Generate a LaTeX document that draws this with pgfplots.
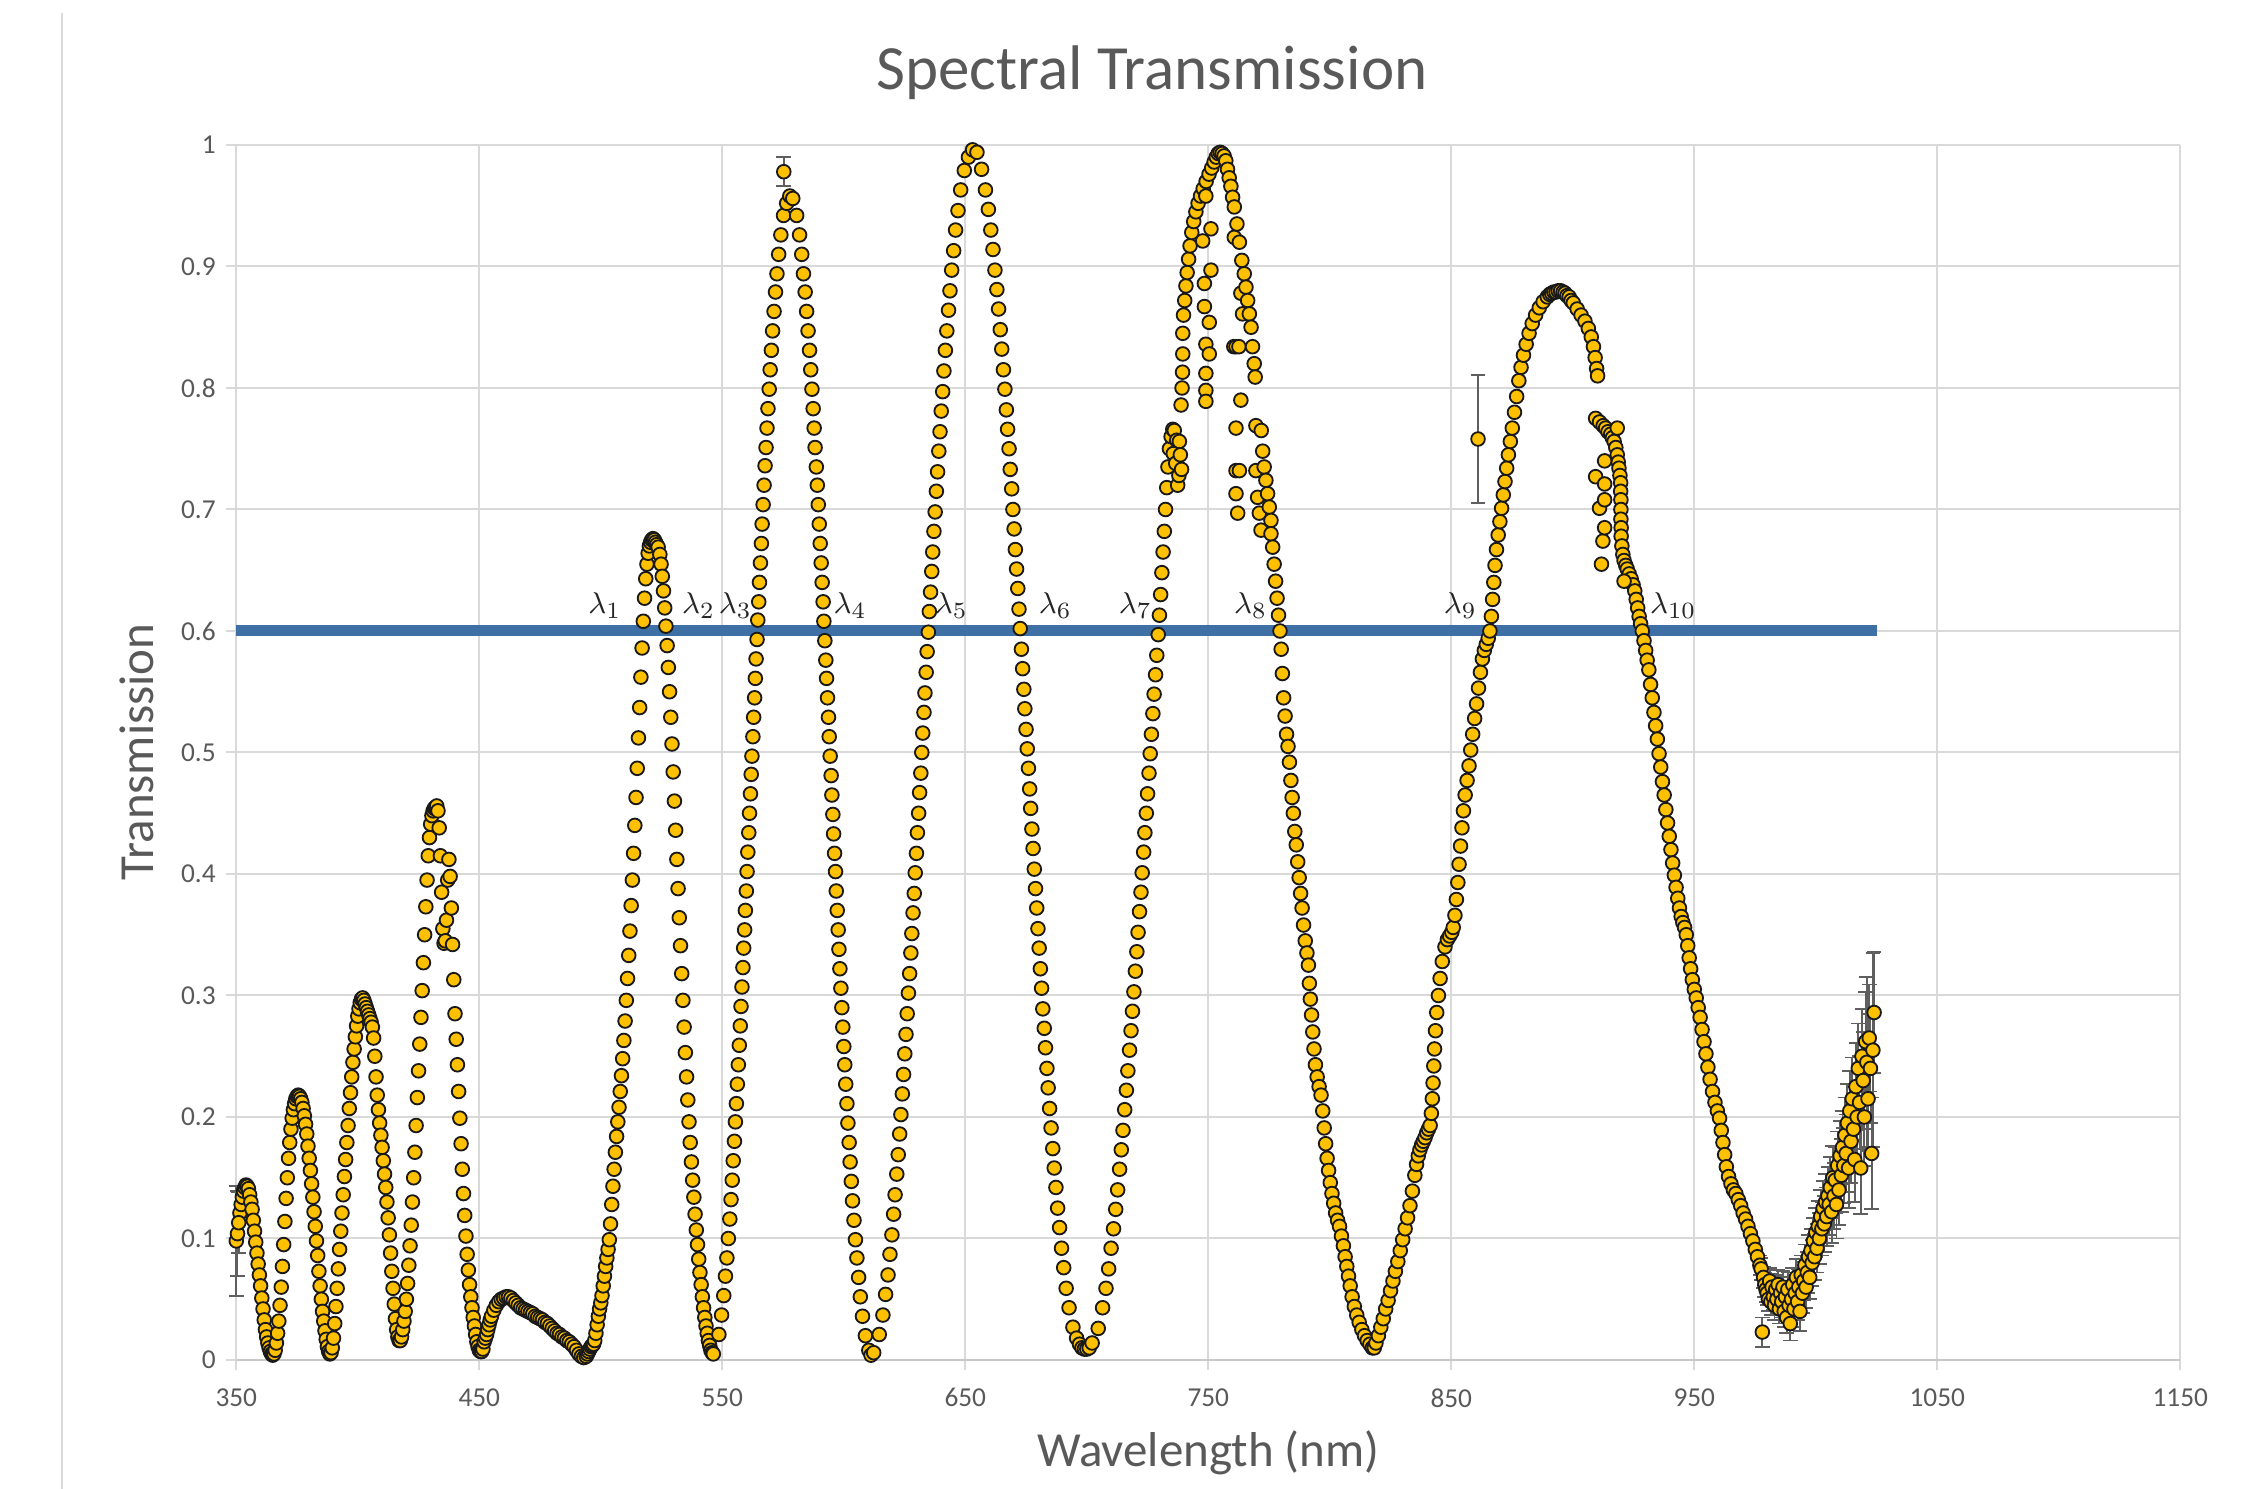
\documentclass[border=0pt]{standalone}
\usepackage{fontspec}
\setmainfont{Carlito}
\usepackage{pgfplots}
\pgfplotsset{compat=1.18}
\usepackage{pgfplotstable}

\definecolor{txtgray}{RGB}{89,89,89}
\definecolor{gridgray}{RGB}{217,217,217}
\definecolor{axgray}{RGB}{200,200,200}
\definecolor{mkfill}{RGB}{255,192,0}
\definecolor{lineblue}{RGB}{62,112,166}
\definecolor{errgray}{RGB}{95,95,95}

% main series
\pgfplotstableread{
x y
351.5 0.121
352.0 0.128
352.5 0.134
353.0 0.139
353.5 0.142
354.0 0.144
354.5 0.143
355.0 0.141
355.5 0.136
356.0 0.130
356.5 0.124
357.0 0.115
357.5 0.106
358.0 0.097
358.5 0.088
359.0 0.079
359.5 0.070
360.0 0.061
360.5 0.051
361.0 0.042
361.5 0.033
362.0 0.025
362.5 0.019
363.0 0.014
363.5 0.010
364.0 0.007
364.5 0.005
365.0 0.004
365.5 0.005
366.0 0.008
366.5 0.014
367.0 0.022
367.5 0.032
368.0 0.045
368.5 0.060
369.0 0.077
369.5 0.095
370.0 0.114
370.5 0.133
371.0 0.150
371.5 0.166
372.0 0.179
372.5 0.190
373.0 0.199
373.5 0.206
374.0 0.211
374.5 0.215
375.0 0.217
375.5 0.218
376.0 0.217
376.5 0.215
377.0 0.212
377.5 0.207
378.0 0.201
378.5 0.194
379.0 0.186
379.5 0.176
380.0 0.166
380.5 0.156
381.0 0.145
381.5 0.134
382.0 0.122
382.5 0.110
383.0 0.098
383.5 0.086
384.0 0.073
384.5 0.061
385.0 0.050
385.5 0.040
386.0 0.032
386.5 0.024
387.0 0.017
387.5 0.011
388.0 0.007
388.5 0.005
389.0 0.006
389.5 0.010
390.0 0.018
390.5 0.030
391.0 0.044
391.5 0.059
392.0 0.075
392.5 0.091
393.0 0.106
393.5 0.121
394.0 0.136
394.5 0.151
395.0 0.165
395.5 0.179
396.0 0.193
396.5 0.207
397.0 0.220
397.5 0.233
398.0 0.245
398.5 0.256
399.0 0.266
399.5 0.275
400.0 0.283
400.5 0.289
401.0 0.294
401.5 0.297
402.0 0.298
402.5 0.296
403.0 0.293
403.5 0.290
404.0 0.287
404.5 0.284
405.0 0.281
405.5 0.278
406.0 0.274
406.5 0.265
407.0 0.250
407.5 0.233
408.0 0.218
408.5 0.206
409.0 0.195
409.5 0.185
410.0 0.175
410.5 0.164
411.0 0.153
411.5 0.142
412.0 0.130
412.5 0.117
413.0 0.103
413.5 0.088
414.0 0.073
414.5 0.059
415.0 0.046
415.5 0.034
416.0 0.025
416.5 0.019
417.0 0.016
417.5 0.016
418.0 0.019
418.5 0.025
419.0 0.032
419.5 0.040
420.0 0.050
420.5 0.063
421.0 0.078
421.5 0.094
422.0 0.111
422.5 0.130
423.0 0.150
423.5 0.171
424.0 0.193
424.5 0.216
425.0 0.238
425.5 0.260
426.0 0.282
426.5 0.304
427.0 0.327
427.5 0.350
428.0 0.373
428.5 0.395
429.0 0.415
429.5 0.430
430.0 0.441
430.5 0.448
431.0 0.452
431.5 0.454
432.0 0.455
432.5 0.456
433.0 0.452
433.5 0.438
434.0 0.415
434.5 0.385
435.0 0.355
435.5 0.343
436.0 0.345
436.5 0.362
437.0 0.395
437.5 0.412
438.0 0.398
438.5 0.372
439.0 0.342
439.5 0.313
440.0 0.285
440.5 0.264
441.0 0.243
441.5 0.221
442.0 0.199
442.5 0.178
443.0 0.157
443.5 0.137
444.0 0.119
444.5 0.102
445.0 0.087
445.5 0.074
446.0 0.062
446.5 0.052
447.0 0.043
447.5 0.035
448.0 0.028
448.5 0.021
449.0 0.015
449.5 0.011
450.0 0.008
450.5 0.007
451.0 0.007
451.5 0.009
452.0 0.015
452.5 0.018
453.0 0.021
453.5 0.025
454.0 0.029
454.5 0.033
455.0 0.036
456.0 0.041
457.0 0.045
458.0 0.048
459.0 0.050
460.0 0.051
461.0 0.052
462.0 0.052
463.0 0.051
464.0 0.049
465.0 0.047
466.0 0.045
467.0 0.043
468.0 0.042
469.0 0.041
470.0 0.040
471.0 0.039
472.0 0.038
473.0 0.036
474.0 0.035
475.0 0.034
476.0 0.033
477.0 0.031
478.0 0.030
479.0 0.028
480.0 0.026
481.0 0.024
482.0 0.022
483.0 0.021
484.0 0.019
485.0 0.018
486.0 0.016
487.0 0.015
488.0 0.013
489.0 0.011
490.0 0.008
491.0 0.005
492.0 0.003
493.0 0.002
494.0 0.003
494.5 0.005
495.0 0.007
495.5 0.009
496.0 0.011
496.5 0.012
497.0 0.013
497.5 0.016
498.0 0.022
498.5 0.029
499.0 0.036
499.5 0.042
500.0 0.047
500.5 0.053
501.0 0.061
501.5 0.069
502.0 0.077
502.5 0.084
503.0 0.091
503.5 0.099
504.0 0.112
504.5 0.128
505.0 0.143
505.5 0.157
506.0 0.171
506.5 0.184
507.0 0.196
507.5 0.208
508.0 0.221
508.5 0.234
509.0 0.248
509.5 0.263
510.0 0.279
510.5 0.296
511.0 0.314
511.5 0.333
512.0 0.353
512.5 0.374
513.0 0.395
513.5 0.417
514.0 0.440
514.5 0.463
515.0 0.487
515.5 0.512
516.0 0.537
516.5 0.562
517.0 0.586
517.5 0.608
518.0 0.627
518.5 0.643
519.0 0.655
519.5 0.664
520.0 0.670
520.5 0.673
521.0 0.675
521.5 0.676
522.0 0.675
522.5 0.673
523.0 0.671
523.6 0.669
524.3 0.663
524.8 0.655
525.3 0.645
525.8 0.633
526.3 0.619
526.8 0.604
527.3 0.588
527.8 0.570
528.3 0.550
528.8 0.529
529.3 0.507
529.8 0.484
530.3 0.460
530.8 0.436
531.3 0.412
531.8 0.388
532.3 0.364
532.8 0.341
533.3 0.318
533.8 0.296
534.3 0.274
534.8 0.253
535.3 0.233
535.8 0.214
536.3 0.196
536.8 0.179
537.3 0.163
537.8 0.148
538.3 0.134
538.8 0.120
539.3 0.107
539.8 0.095
540.3 0.083
540.8 0.072
541.3 0.062
541.8 0.052
542.3 0.043
542.8 0.035
543.3 0.028
543.8 0.022
544.3 0.016
544.8 0.012
545.3 0.008
545.8 0.006
546.3 0.005
548.6 0.021
549.7 0.037
550.6 0.053
551.3 0.069
551.9 0.084
552.5 0.100
553.1 0.116
553.6 0.132
554.1 0.148
554.5 0.164
555.0 0.180
555.4 0.196
555.8 0.211
556.2 0.227
556.6 0.243
557.0 0.259
557.4 0.275
557.7 0.291
558.1 0.307
558.5 0.323
558.8 0.339
559.2 0.354
559.5 0.370
559.9 0.386
560.2 0.402
560.5 0.418
560.9 0.434
561.2 0.450
561.6 0.466
561.9 0.482
562.2 0.497
562.6 0.513
562.9 0.529
563.3 0.545
563.6 0.561
563.9 0.577
564.3 0.593
564.6 0.609
565.0 0.624
565.3 0.640
565.7 0.656
566.1 0.672
566.4 0.688
566.8 0.704
567.2 0.720
567.6 0.736
568.0 0.751
568.4 0.767
568.8 0.783
569.3 0.799
569.7 0.815
570.2 0.831
570.7 0.847
571.3 0.863
571.9 0.879
572.5 0.894
573.2 0.910
574.1 0.926
575.2 0.942
576.5 0.952
577.8 0.958
579.0 0.956
580.6 0.942
581.8 0.926
582.7 0.910
583.4 0.894
584.1 0.879
584.7 0.863
585.3 0.847
585.9 0.831
586.4 0.815
586.9 0.799
587.4 0.783
587.8 0.767
588.2 0.751
588.7 0.735
589.1 0.720
589.5 0.704
589.9 0.688
590.3 0.672
590.7 0.656
591.1 0.640
591.5 0.624
591.8 0.608
592.2 0.592
592.6 0.576
592.9 0.561
593.3 0.545
593.7 0.529
594.0 0.513
594.4 0.497
594.8 0.481
595.1 0.465
595.5 0.449
595.8 0.433
596.2 0.417
596.6 0.402
596.9 0.386
597.3 0.370
597.7 0.354
598.0 0.338
598.4 0.322
598.8 0.306
599.2 0.290
599.6 0.274
600.0 0.258
600.4 0.243
600.8 0.227
601.3 0.211
601.7 0.195
602.2 0.179
602.6 0.163
603.1 0.147
603.6 0.131
604.2 0.115
604.8 0.099
605.4 0.084
606.1 0.068
606.8 0.052
607.7 0.036
608.9 0.020
610.3 0.008
611.2 0.004
612.3 0.006
614.6 0.021
616.1 0.037
617.2 0.054
618.2 0.070
619.0 0.087
619.8 0.103
620.5 0.120
621.1 0.136
621.8 0.153
622.4 0.169
623.0 0.186
623.5 0.202
624.1 0.219
624.6 0.235
625.1 0.252
625.6 0.268
626.1 0.285
626.6 0.302
627.1 0.318
627.6 0.335
628.0 0.351
628.5 0.368
629.0 0.384
629.4 0.401
629.9 0.417
630.3 0.434
630.8 0.450
631.2 0.467
631.7 0.483
632.1 0.500
632.5 0.516
633.0 0.533
633.4 0.549
633.9 0.566
634.3 0.583
634.8 0.599
635.2 0.616
635.7 0.632
636.2 0.649
636.6 0.665
637.1 0.682
637.6 0.698
638.1 0.715
638.6 0.731
639.1 0.748
639.6 0.764
640.1 0.781
640.7 0.797
641.2 0.814
641.8 0.831
642.4 0.847
643.1 0.864
643.7 0.880
644.4 0.897
645.2 0.913
646.0 0.930
647.0 0.946
648.1 0.963
649.6 0.979
651.3 0.990
653.0 0.996
654.8 0.994
656.7 0.980
658.3 0.963
659.5 0.947
660.5 0.930
661.4 0.914
662.2 0.897
663.0 0.881
663.7 0.865
664.4 0.848
665.0 0.832
665.7 0.815
666.3 0.799
666.9 0.782
667.4 0.766
668.0 0.750
668.5 0.733
669.1 0.717
669.6 0.700
670.1 0.684
670.6 0.667
671.1 0.651
671.6 0.635
672.1 0.618
672.6 0.602
673.1 0.585
673.6 0.569
674.1 0.552
674.5 0.536
675.0 0.519
675.5 0.503
676.0 0.487
676.5 0.470
676.9 0.454
677.4 0.437
677.9 0.421
678.4 0.404
678.9 0.388
679.4 0.372
679.9 0.355
680.4 0.339
680.9 0.322
681.4 0.306
681.9 0.289
682.5 0.273
683.0 0.257
683.6 0.240
684.1 0.224
684.7 0.207
685.3 0.191
686.0 0.174
686.6 0.158
687.3 0.142
688.0 0.125
688.8 0.109
689.6 0.092
690.5 0.076
691.5 0.059
692.7 0.043
694.3 0.027
695.8 0.018
697.0 0.013
698.0 0.010
699.0 0.009
700.0 0.009
701.0 0.010
702.2 0.014
704.7 0.026
706.5 0.043
707.9 0.059
709.0 0.075
710.0 0.092
711.0 0.108
711.9 0.124
712.7 0.140
713.5 0.157
714.2 0.173
714.9 0.189
715.6 0.206
716.3 0.222
716.9 0.238
717.6 0.255
718.2 0.271
718.8 0.287
719.4 0.303
720.0 0.320
720.6 0.336
721.1 0.352
721.7 0.369
722.3 0.385
722.8 0.401
723.4 0.418
723.9 0.434
724.5 0.450
725.0 0.466
725.6 0.483
726.1 0.499
726.6 0.515
727.2 0.532
727.7 0.548
728.3 0.564
728.8 0.580
729.4 0.597
729.9 0.613
730.4 0.630
730.9 0.648
731.4 0.665
731.9 0.682
732.4 0.700
732.9 0.718
733.4 0.735
734.0 0.750
734.7 0.760
735.4 0.766
735.6 0.746
736.0 0.765
736.6 0.738
737.0 0.757
737.4 0.720
737.9 0.728
738.1 0.756
738.5 0.745
739.0 0.733
738.8 0.786
739.2 0.800
739.4 0.813
739.5 0.828
739.5 0.845
739.8 0.860
740.3 0.872
740.8 0.884
741.3 0.895
741.9 0.906
742.5 0.917
743.2 0.928
744.0 0.937
744.9 0.945
745.8 0.952
746.8 0.958
747.9 0.964
749.1 0.970
750.3 0.976
751.4 0.981
752.4 0.986
753.3 0.990
754.1 0.993
754.9 0.994
755.7 0.993
756.5 0.991
757.2 0.987
757.9 0.980
758.6 0.973
759.3 0.966
760.0 0.957
760.7 0.949
749.0 0.958
751.1 0.931
747.7 0.921
751.1 0.897
748.4 0.886
748.4 0.867
750.4 0.854
749.0 0.836
750.4 0.828
749.0 0.812
749.0 0.798
749.0 0.789
760.7 0.924
760.5 0.834
761.4 0.834
762.6 0.834
763.4 0.790
761.4 0.767
761.4 0.732
762.8 0.732
761.4 0.713
762.1 0.697
761.8 0.935
762.8 0.920
763.8 0.905
763.4 0.878
764.1 0.861
764.8 0.894
765.5 0.883
766.2 0.872
766.9 0.861
767.6 0.850
768.2 0.834
768.9 0.820
769.3 0.809
769.6 0.769
771.8 0.765
772.4 0.748
769.6 0.732
770.3 0.710
771.0 0.697
771.7 0.683
773.0 0.735
773.7 0.724
774.4 0.713
775.1 0.702
775.8 0.691
775.8 0.680
776.5 0.669
777.1 0.655
777.7 0.641
778.3 0.627
778.9 0.613
779.5 0.600
780.0 0.585
780.5 0.565
781.0 0.545
781.6 0.530
782.2 0.515
782.8 0.505
783.4 0.492
784.0 0.477
784.5 0.463
785.0 0.450
785.6 0.435
786.2 0.424
786.8 0.410
787.4 0.397
788.0 0.384
788.6 0.372
789.2 0.358
789.9 0.345
790.6 0.335
791.2 0.325
791.6 0.310
792.0 0.297
792.5 0.284
793.0 0.270
793.5 0.256
794.1 0.243
794.8 0.233
795.6 0.225
796.4 0.218
797.1 0.205
797.7 0.191
798.3 0.178
798.9 0.166
799.5 0.156
800.2 0.146
800.9 0.137
801.6 0.129
802.4 0.121
803.2 0.115
804.0 0.110
804.8 0.102
805.6 0.094
806.3 0.085
807.0 0.077
807.7 0.069
808.4 0.061
809.2 0.052
810.1 0.044
811.1 0.037
812.1 0.031
813.2 0.025
814.3 0.020
815.4 0.016
816.5 0.013
817.5 0.010
818.3 0.010
819.0 0.014
820.0 0.020
821.0 0.027
822.0 0.034
823.0 0.042
824.0 0.049
825.0 0.057
826.0 0.065
827.0 0.073
828.0 0.081
829.0 0.090
830.0 0.099
831.0 0.108
832.0 0.117
833.0 0.127
834.0 0.139
835.0 0.152
835.7 0.161
836.4 0.168
837.1 0.173
837.8 0.177
838.5 0.180
839.2 0.183
839.9 0.187
840.6 0.190
841.3 0.193
841.8 0.203
842.2 0.215
842.5 0.228
842.8 0.242
843.1 0.256
843.5 0.271
844.0 0.286
844.7 0.300
845.4 0.314
846.3 0.328
847.4 0.340
848.4 0.346
849.3 0.349
850.2 0.352
850.8 0.356
851.5 0.366
852.1 0.379
852.7 0.393
853.2 0.408
853.8 0.423
854.4 0.438
855.0 0.452
855.7 0.465
856.5 0.477
857.3 0.489
858.0 0.502
858.8 0.515
859.6 0.528
860.4 0.540
861.2 0.553
862.0 0.566
862.8 0.577
863.6 0.584
864.4 0.589
865.2 0.594
865.9 0.600
866.5 0.612
867.0 0.626
867.5 0.640
868.0 0.654
868.6 0.667
869.3 0.679
870.0 0.690
870.7 0.701
871.4 0.712
872.1 0.723
872.8 0.734
873.5 0.745
874.3 0.756
875.1 0.767
876.0 0.780
876.9 0.793
877.8 0.806
878.7 0.817
879.7 0.827
880.8 0.836
882.0 0.845
883.3 0.853
884.7 0.860
886.2 0.866
887.8 0.871
889.5 0.875
890.5 0.877
891.3 0.878
892.2 0.879
893.1 0.879
894.0 0.880
895.0 0.880
896.0 0.879
896.8 0.878
897.6 0.876
898.5 0.875
899.3 0.872
900.2 0.870
901.8 0.865
903.4 0.860
905.0 0.855
906.4 0.849
907.6 0.842
908.5 0.834
909.2 0.825
909.8 0.816
910.2 0.810
909.4 0.775
911.0 0.772
912.5 0.769
913.5 0.767
914.5 0.764
915.6 0.762
916.3 0.759
917.0 0.756
917.7 0.751
918.3 0.745
918.7 0.739
919.0 0.734
919.4 0.728
919.7 0.722
919.7 0.715
919.8 0.708
919.8 0.700
919.8 0.692
919.9 0.685
919.9 0.678
920.2 0.670
920.6 0.663
921.1 0.658
921.8 0.654
922.4 0.651
923.2 0.647
924.0 0.643
924.8 0.638
925.5 0.633
926.1 0.626
926.7 0.619
927.3 0.612
927.9 0.606
928.6 0.600
929.3 0.592
930.0 0.584
930.6 0.576
909.4 0.727
911.0 0.701
911.8 0.655
912.4 0.674
913.1 0.740
913.1 0.721
913.1 0.708
913.1 0.685
921.1 0.641
918.3 0.767
931.3 0.568
932.0 0.556
932.7 0.545
933.4 0.533
934.1 0.522
934.8 0.511
935.5 0.499
936.2 0.488
936.9 0.476
937.6 0.465
938.3 0.453
939.0 0.442
939.7 0.431
940.4 0.420
941.1 0.409
941.8 0.399
942.5 0.389
943.2 0.380
943.9 0.372
944.6 0.365
945.3 0.360
946.0 0.356
946.7 0.350
947.3 0.341
947.9 0.331
948.5 0.322
949.2 0.313
950.0 0.305
950.8 0.298
951.6 0.290
952.4 0.282
953.2 0.272
954.0 0.262
954.8 0.252
955.6 0.241
956.5 0.231
957.5 0.221
958.5 0.212
959.5 0.205
960.4 0.199
961.1 0.189
961.8 0.179
962.5 0.169
963.2 0.159
964.1 0.151
965.1 0.145
966.1 0.140
967.1 0.137
968.1 0.132
969.1 0.127
970.1 0.121
971.1 0.116
972.1 0.110
973.1 0.104
974.1 0.098
975.1 0.091
976.0 0.085
}\maintable

% points with their own error bars: start, outliers, noisy tail
\pgfplotstableread{
x y e
350.0 0.098 0.045
350.5 0.104 0.035
351.0 0.113 0.025
575.3 0.978 0.012
861.0 0.758 0.053
977.0 0.078 0.008
977.5 0.075 0.009
978.5 0.068 0.009
979.0 0.062 0.010
979.5 0.058 0.010
978.0 0.023 0.012
980.0 0.055 0.010
980.5 0.050 0.010
981.0 0.065 0.011
981.5 0.048 0.011
982.0 0.060 0.011
982.5 0.052 0.011
983.0 0.045 0.012
983.5 0.058 0.012
984.0 0.050 0.012
984.5 0.062 0.012
985.0 0.042 0.012
985.5 0.055 0.013
986.0 0.048 0.013
986.5 0.060 0.013
987.0 0.040 0.013
987.5 0.052 0.013
988.0 0.035 0.013
988.5 0.058 0.014
989.0 0.045 0.014
989.5 0.030 0.014
990.0 0.050 0.014
990.5 0.062 0.014
991.0 0.042 0.015
991.5 0.055 0.015
992.0 0.068 0.015
992.5 0.048 0.015
993.0 0.060 0.015
993.5 0.040 0.016
994.0 0.070 0.016
994.5 0.055 0.016
995.0 0.065 0.016
995.5 0.078 0.017
996.0 0.060 0.017
996.5 0.072 0.017
997.0 0.085 0.018
997.5 0.068 0.018
998.0 0.090 0.018
998.5 0.080 0.019
999.0 0.098 0.019
999.5 0.085 0.019
1000.0 0.105 0.020
1000.5 0.092 0.020
1001.0 0.110 0.021
1001.5 0.100 0.021
1002.0 0.118 0.022
1002.5 0.108 0.022
1003.0 0.125 0.022
1003.5 0.112 0.023
1004.0 0.130 0.023
1004.5 0.118 0.024
1005.0 0.135 0.024
1005.5 0.128 0.025
1006.0 0.142 0.025
1006.5 0.122 0.026
1007.0 0.150 0.026
1007.5 0.135 0.027
1008.0 0.148 0.027
1008.5 0.128 0.028
1009.0 0.160 0.028
1009.5 0.140 0.029
1010.0 0.168 0.029
1010.5 0.152 0.030
1011.0 0.175 0.030
1011.5 0.160 0.031
1012.0 0.185 0.031
1012.5 0.170 0.032
1013.0 0.195 0.032
1013.5 0.158 0.033
1014.0 0.205 0.033
1014.5 0.180 0.034
1015.0 0.215 0.034
1015.5 0.190 0.035
1016.0 0.165 0.035
1016.5 0.225 0.036
1017.0 0.200 0.036
1017.5 0.240 0.037
1018.0 0.212 0.038
1018.5 0.158 0.038
1019.0 0.250 0.039
1019.5 0.230 0.040
1020.0 0.200 0.040
1020.5 0.262 0.041
1021.0 0.245 0.070
1021.5 0.215 0.043
1022.0 0.265 0.044
1022.5 0.240 0.045
1023.0 0.170 0.046
1023.5 0.255 0.080
1024.0 0.286 0.050
}\errtable

\begin{document}
\begin{tikzpicture}
\path[use as bounding box] (-70.89pt,-38.7pt) rectangle (608.91pt,408pt);
\draw[gridgray, line width=0.6pt] (-52.3pt,-38.7pt) -- (-52.3pt,404pt);
\begin{axis}[
  at={(0pt,0pt)}, anchor=south west,
  scale only axis, width=583.2pt, height=364.5pt,
  xmin=350, xmax=1150, ymin=0, ymax=1,
  clip=false,
  xtick={350,450,550,650,750,850,950,1050,1150},
  xticklabels={350,450,550,650,750,850,950,1050,1150},
  ytick={0,0.1,0.2,0.3,0.4,0.5,0.6,0.7,0.8,0.9,1},
  yticklabels={0,0.1,0.2,0.3,0.4,0.5,0.6,0.7,0.8,0.9,1},
  grid=major, major grid style={gridgray, line width=0.6pt},
  axis x line*=bottom, axis y line*=left,
  x axis line style={axgray, line width=0.8pt},
  y axis line style={gridgray, line width=0.6pt},
  tick align=outside, major tick length=3pt,
  tick style={gridgray, line width=0.6pt},
  ticklabel style={font=\fontsize{8.2}{9}\selectfont, text=txtgray, inner sep=0pt},
  xticklabel style={yshift=-5.3pt},
  yticklabel style={xshift=-3pt},
]
\addplot[only marks, mark=*, mark size=2.05pt,
  mark options={fill=mkfill, draw=black!90, line width=0.55pt}]
  table[x=x, y=y] {\maintable};
\addplot[only marks, mark=*, mark size=2.05pt,
  mark options={fill=mkfill, draw=black!90, line width=0.55pt},
  error bars/.cd, y dir=both, y explicit,
  error bar style={errgray, line width=0.55pt},
  error mark options={rotate=90, errgray, mark size=2.2pt, line width=0.55pt}]
  table[x=x, y=y, y error=e] {\errtable};
\addplot[lineblue, line width=3.3pt] coordinates {(350,0.6) (1025,0.6)};
\begin{scope}[every node/.style={anchor=base, inner sep=0pt, text=black!85, font=\fontsize{9.5}{10}\selectfont}]
\node at (axis cs:501.7,0.614) {$\lambda_{1}$};
\node at (axis cs:540.2,0.614) {$\lambda_{2}$};
\node at (axis cs:555.4,0.614) {$\lambda_{3}$};
\node at (axis cs:602.6,0.614) {$\lambda_{4}$};
\node at (axis cs:644.3,0.614) {$\lambda_{5}$};
\node at (axis cs:687.1,0.614) {$\lambda_{6}$};
\node at (axis cs:720.0,0.614) {$\lambda_{7}$};
\node at (axis cs:767.4,0.614) {$\lambda_{8}$};
\node at (axis cs:853.7,0.614) {$\lambda_{9}$};
\node at (axis cs:941.3,0.614) {$\lambda_{10}$};
\end{scope}
\end{axis}
\node[text=txtgray, font=\fontsize{18.9}{22}\selectfont] at (274.7pt,386.3pt) {Spectral Transmission};
\node[text=txtgray, font=\fontsize{14.7}{17}\selectfont] at (291.6pt,-27.9pt) {Wavelength (nm)};
\node[text=txtgray, font=\fontsize{14.7}{17}\selectfont, rotate=90] at (-29.8pt,182.4pt) {Transmission};
\end{tikzpicture}
\end{document}
